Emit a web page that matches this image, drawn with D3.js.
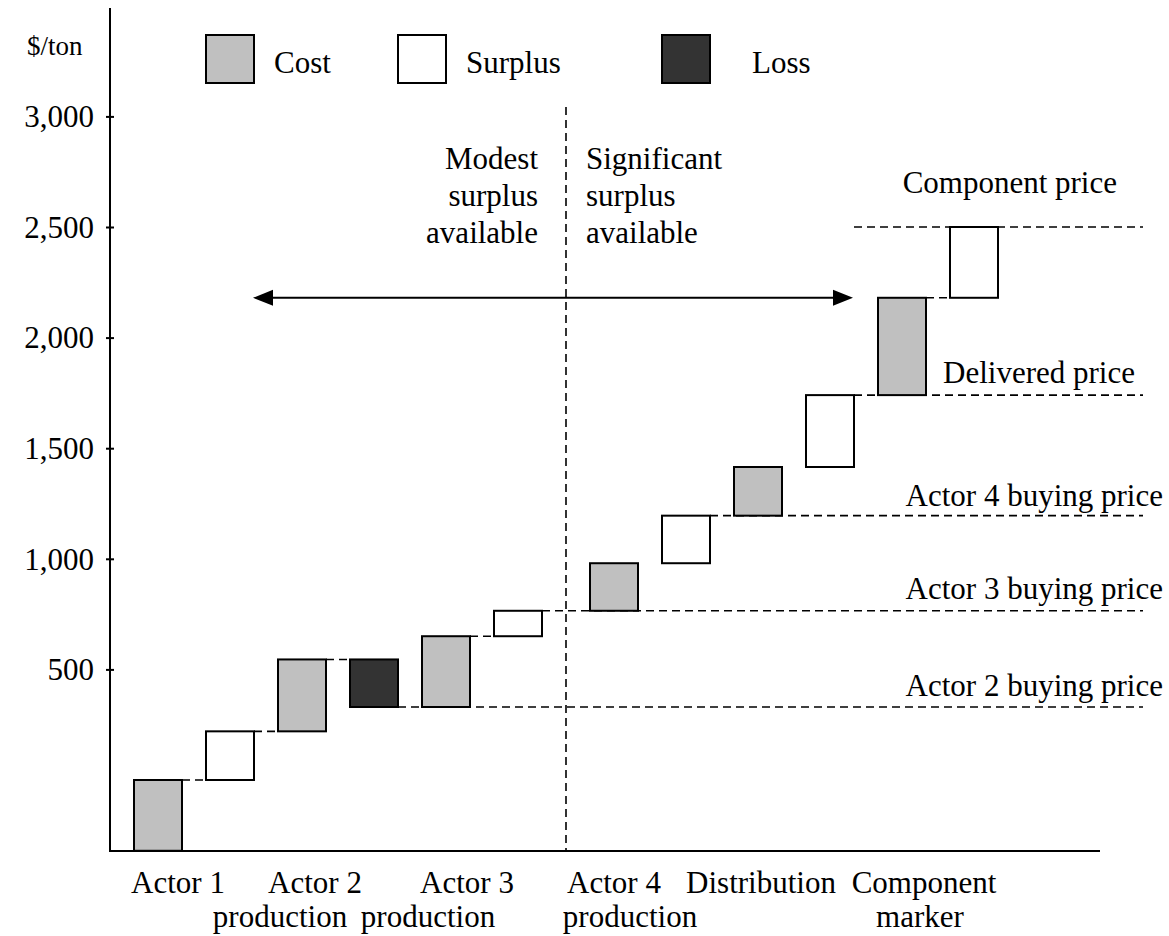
<!DOCTYPE html>
<html>
<head>
<meta charset="utf-8">
<script src="https://cdn.jsdelivr.net/npm/d3@7"></script>
<style>
  html, body { margin: 0; padding: 0; background: #fff; }
  svg { display: block; }
  text { font-family: "Liberation Serif", "Times New Roman", serif; fill: #000; }
</style>
</head>
<body>
<svg id="chart" width="1169" height="936"></svg>
<script>
// ---------------- data ----------------
const categories = ["Actor 1", "Actor 2\nproduction", "Actor 3\nproduction", "Actor 4\nproduction", "Distribution", "Component\nmarker"];
const stepTypes  = ["Cost", "Surplus", "Cost", "Loss", "Cost", "Surplus", "Cost", "Surplus", "Cost", "Surplus", "Cost", "Surplus"];
const stepCategory = [0, 0, 1, 1, 2, 2, 3, 3, 4, 4, 5, 5];
// cumulative level ($/ton) after each step; start level is the axis floor
const startLevel = -320;
const stepLevels = [0, 220, 545, 330, 650, 765, 980, 1195, 1415, 1740, 2180, 2500];
const connectedSteps = [0, 1, 2, 4, 10];            // short dashed connectors after these steps
const priceLabels = ["Actor 2 buying price", "Actor 3 buying price", "Actor 4 buying price", "Delivered price", "Component price"];
const priceValues = [330, 765, 1195, 1740, 2500];
const priceFromStep = [3, 5, 7, 9, 9];
const yTicks = [500, 1000, 1500, 2000, 2500, 3000];
const legendItems = ["Cost", "Surplus", "Loss"];
const zoneLabels = [["Modest", "surplus", "available"], ["Significant", "surplus", "available"]];
const yUnit = "$/ton";

// ---------------- layout ----------------
const fills = { Cost: "#c0c0c0", Surplus: "#ffffff", Loss: "#333333" };
const svg = d3.select("#chart");
const fs = 31;
const axisX = 110, axisBottom = 851, axisTop = 8;

const y = d3.scaleLinear().domain([0, 3000]).range([780, 116.4]);
const x = d3.scaleLinear().domain([0, 12]).range([134, 134 + 72 * 12]);
const barW = 48;
const dividerShift = 1 / 3;
const slot = i => i + (i >= 6 ? dividerShift : 0);
const bx = i => x(slot(i));

const steps = stepTypes.map((t, i) => ({
  type: t, i,
  from: i === 0 ? startLevel : stepLevels[i - 1],
  to: stepLevels[i]
}));

const dash = "8,5";

// y axis
svg.append("line").attr("x1", axisX).attr("x2", axisX).attr("y1", axisTop).attr("y2", axisBottom)
  .attr("stroke", "#000").attr("stroke-width", 2);
// x axis
svg.append("line").attr("x1", axisX - 1).attr("x2", 1100).attr("y1", axisBottom).attr("y2", axisBottom)
  .attr("stroke", "#000").attr("stroke-width", 2);

const yAxis = d3.axisLeft(y).tickValues(yTicks).tickSize(0).tickPadding(0)
  .tickFormat(d3.format(","));
const gy = svg.append("g").attr("transform", `translate(${axisX},0)`).call(yAxis);
gy.select(".domain").remove();
gy.selectAll(".tick").append("line").attr("x1", -4).attr("x2", 4).attr("stroke", "#000").attr("stroke-width", 2);
gy.selectAll(".tick text").attr("x", -16).attr("dy", "0.33em")
  .style("font-family", '"Liberation Serif", serif').style("font-size", fs + "px").attr("fill", "#000");

// unit label
svg.append("text").attr("x", 27).attr("y", 55).style("font-size", "27px").text(yUnit);

// divider
const divX = (bx(5) + barW + bx(6)) / 2;
svg.append("line").attr("x1", divX).attr("x2", divX).attr("y1", 107).attr("y2", axisBottom)
  .attr("stroke", "#000").attr("stroke-width", 1.6).attr("stroke-dasharray", dash);

// price reference lines
const lineEnd = 1143;
priceValues.forEach((v, k) => {
  svg.append("line").attr("x1", bx(priceFromStep[k]) + barW).attr("x2", lineEnd)
    .attr("y1", y(v)).attr("y2", y(v))
    .attr("stroke", "#000").attr("stroke-width", 1.6).attr("stroke-dasharray", dash);
});
const priceLabelX = [1163, 1163, 1163, 1135, 1117];
const priceLabelDy = [-11, -12, -10, -12, -34];
priceLabels.forEach((t, k) => {
  svg.append("text").attr("x", priceLabelX[k]).attr("y", y(priceValues[k]) + priceLabelDy[k])
    .attr("text-anchor", "end").style("font-size", fs + "px").text(t);
});

// connectors
connectedSteps.forEach(i => {
  const lv = stepLevels[i];
  svg.append("line").attr("x1", bx(i) + barW).attr("x2", bx(i + 1))
    .attr("y1", y(lv)).attr("y2", y(lv))
    .attr("stroke", "#000").attr("stroke-width", 1.6).attr("stroke-dasharray", dash);
});

// bars
svg.append("g").selectAll("rect").data(steps).join("rect")
  .attr("x", d => bx(d.i))
  .attr("y", d => y(Math.max(d.from, d.to)))
  .attr("width", barW)
  .attr("height", d => Math.abs(y(d.from) - y(d.to)))
  .attr("fill", d => fills[d.type])
  .attr("stroke", "#000").attr("stroke-width", 2);

// arrow
const arrowY = y(stepLevels[10]);
const ax1 = 253, ax2 = 853, ah = 20, aw = 8;
svg.append("line").attr("x1", ax1 + ah - 2).attr("x2", ax2 - ah + 2).attr("y1", arrowY).attr("y2", arrowY)
  .attr("stroke", "#000").attr("stroke-width", 2);
svg.append("path").attr("d", `M${ax2},${arrowY} L${ax2 - ah},${arrowY - aw} L${ax2 - ah},${arrowY + aw} Z`).attr("fill", "#000");
svg.append("path").attr("d", `M${ax1},${arrowY} L${ax1 + ah},${arrowY - aw} L${ax1 + ah},${arrowY + aw} Z`).attr("fill", "#000");

// zone labels
const zoneBase = [169, 206, 243];
zoneLabels[0].forEach((t, k) => svg.append("text").attr("x", 538).attr("y", zoneBase[k])
  .attr("text-anchor", "end").style("font-size", fs + "px").text(t));
zoneLabels[1].forEach((t, k) => svg.append("text").attr("x", 586).attr("y", zoneBase[k])
  .style("font-size", fs + "px").text(t));

// legend
const legendBoxX = [206, 398, 662];
const legendTextX = [274, 466, 752];
legendItems.forEach((t, k) => {
  svg.append("rect").attr("x", legendBoxX[k]).attr("y", 35).attr("width", 48).attr("height", 48)
    .attr("fill", fills[t]).attr("stroke", "#000").attr("stroke-width", 2);
  svg.append("text").attr("x", legendTextX[k]).attr("y", 73).style("font-size", fs + "px").text(t);
});

// category labels (first and second line centres)
const catCenter = [[178], [315, 280], [467, 428], [614, 630], [761], [924, 920]];
categories.forEach((c, k) => {
  c.split("\n").forEach((line, j) => {
    svg.append("text").attr("x", catCenter[k][j]).attr("y", 893 + j * 34)
      .attr("text-anchor", "middle").style("font-size", fs + "px").text(line);
  });
});
</script>
</body>
</html>
